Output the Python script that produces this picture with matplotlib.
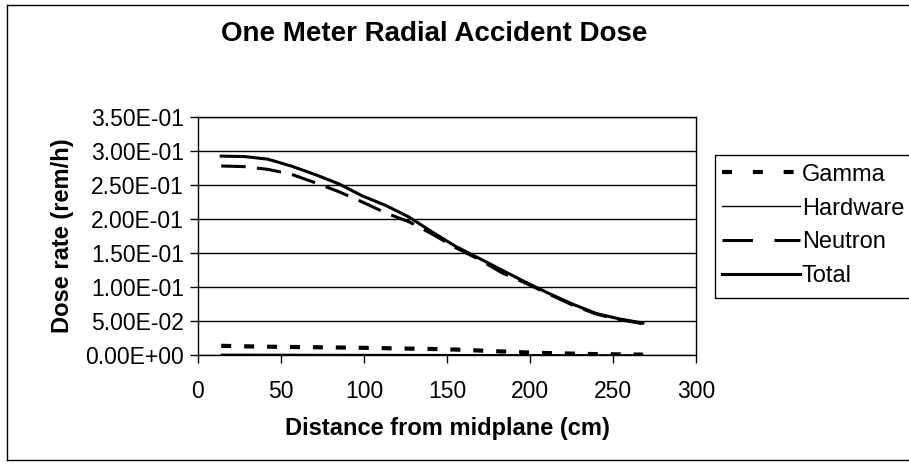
import matplotlib
matplotlib.use("Agg")
import matplotlib.pyplot as plt
from matplotlib.patches import Rectangle
from matplotlib.lines import Line2D
from matplotlib.ticker import FuncFormatter

plt.rcParams['font.family'] = ['Liberation Sans', 'DejaVu Sans']

distance = [14, 28, 42, 56, 71, 85, 99, 113, 127, 141, 155, 169, 183, 197, 211, 226, 240, 254, 268]
gamma = [0.0135, 0.0128, 0.0122, 0.0118, 0.0114, 0.0110, 0.0106, 0.0100, 0.0094, 0.0088,
         0.0080, 0.0066, 0.0052, 0.0038, 0.0028, 0.0020, 0.0013, 0.0009, 0.0006]
hardware = [0.0010, 0.0010, 0.0009, 0.0009, 0.0008, 0.0008, 0.0007, 0.0007, 0.0006, 0.0006,
            0.0005, 0.0005, 0.0004, 0.0004, 0.0003, 0.0003, 0.0002, 0.0002, 0.0002]
neutron = [0.278, 0.277, 0.273, 0.266, 0.253, 0.240, 0.225, 0.209, 0.196, 0.178,
           0.158, 0.141, 0.121, 0.106, 0.090, 0.073, 0.060, 0.052, 0.046]
total = [0.2925, 0.2918, 0.2880, 0.2780, 0.2650, 0.2515, 0.2340, 0.2200, 0.2030, 0.1810,
         0.1600, 0.1426, 0.1250, 0.1075, 0.0910, 0.0745, 0.0610, 0.0530, 0.0470]

y_ticks = [0.0, 0.05, 0.10, 0.15, 0.20, 0.25, 0.30, 0.35]
x_ticks = [0, 50, 100, 150, 200, 250, 300]

W, H = 909, 472
fig = plt.figure(figsize=(W / 100, H / 100), dpi=100)
ax = fig.add_axes([198 / W, 1 - 355 / H, 498 / W, 238 / H])

ax.plot(distance, gamma, color='black', lw=3.0, linestyle=(0, (2.4, 3.1)), label='Gamma')
ax.plot(distance, hardware, color='black', lw=1.0, linestyle='-', label='Hardware')
ax.plot(distance, neutron, color='black', lw=2.2, linestyle=(0, (8, 3.7)), label='Neutron')
ax.plot(distance, total, color='black', lw=2.2, linestyle='-', label='Total')

ax.set_xlim(0, 300)
ax.set_ylim(0, 0.35)
ax.set_xticks(x_ticks)
ax.set_yticks(y_ticks)
ax.yaxis.set_major_formatter(FuncFormatter(lambda v, p: f"{v:.2E}"))
ax.grid(axis='y', color='black', lw=1.0)
ax.set_axisbelow(True)
for s in ax.spines.values():
    s.set_color('black')
    s.set_linewidth(1.0)
ax.tick_params(axis='both', direction='out', length=6, width=1, colors='black',
               labelsize=16.5)
ax.tick_params(axis='x', pad=12)
ax.tick_params(axis='y', pad=4)

ax.set_xlabel('Distance from midplane (cm)', fontsize=17, fontweight='bold', labelpad=10)
ax.set_ylabel('Dose rate (rem/h)', fontsize=17, fontweight='bold', labelpad=8)
fig.text(434 / W, 1 - 34 / H, 'One Meter Radial Accident Dose', ha='center', va='center',
         fontsize=20, fontweight='bold')

handles = [
    Line2D([], [], color='black', lw=3.0, linestyle=(0, (2.4, 5.0))),
    Line2D([], [], color='black', lw=1.0, linestyle='-'),
    Line2D([], [], color='black', lw=2.2, linestyle=(0, (10, 7))),
    Line2D([], [], color='black', lw=2.2, linestyle='-'),
]
labels = ['Gamma', 'Hardware', 'Neutron', 'Total']
leg = fig.legend(handles, labels, loc='upper left', bbox_to_anchor=(717 / W, 1 - 159 / H),
                 frameon=False, fontsize=17, handlelength=3.3, handletextpad=0.1,
                 labelspacing=0.5, borderpad=0.2, borderaxespad=0)

fig.patches.append(Rectangle((715 / W, 1 - 298 / H), 210 / W, 143 / H, transform=fig.transFigure,
                             fill=False, edgecolor='black', lw=1.0, clip_on=False))

# outer chart frame (right edge lies outside the picture)
fig.add_artist(Line2D([7 / W, 7 / W], [1 - 460 / H, 1 - 5 / H], transform=fig.transFigure,
                      color='black', lw=1.0))
fig.add_artist(Line2D([7 / W, 1.0], [1 - 5 / H, 1 - 5 / H], transform=fig.transFigure,
                      color='black', lw=1.0))
fig.add_artist(Line2D([7 / W, 1.0], [1 - 460 / H, 1 - 460 / H], transform=fig.transFigure,
                      color='black', lw=1.0))

fig.savefig('out.png', dpi=100)
